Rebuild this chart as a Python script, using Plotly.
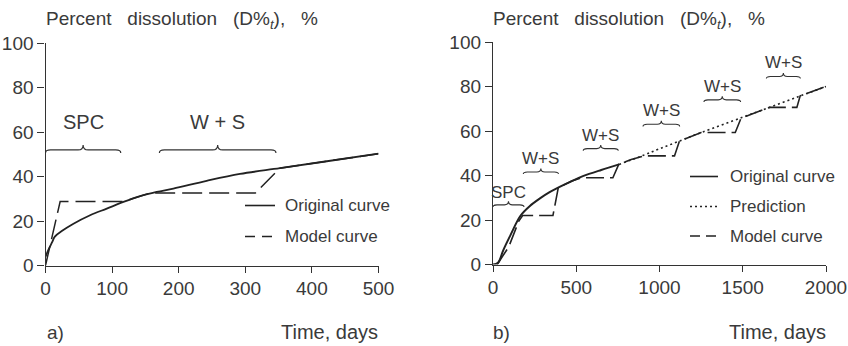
import plotly.graph_objects as go

# ---------------- data ----------------
# panel a)
orig_a_days = [0, 5, 10, 14, 25, 42, 67, 92, 117, 142, 167, 192, 242, 292, 352, 420, 500]
orig_a_pct = [4, 7.5, 10.5, 13, 15.6, 18.8, 22.6, 25.6, 28.6, 31.2, 33.1, 34.6, 38.1, 41.2, 43.8, 46.8, 50.3]
model_a_days = [0, 22, 118, 142, 157, 315, 352, 420, 500]
model_a_pct = [0, 28.8, 28.8, 31.2, 32.6, 32.6, 43.8, 46.8, 50.3]

# panel b)
orig_b_days = [0, 30, 62, 105, 165, 220, 282, 340, 400, 470, 540, 650, 757]
orig_b_pct = [0, 0.8, 6.5, 13.2, 21.9, 26.2, 29.7, 32.5, 34.9, 37.4, 39.7, 42.5, 45]
pred_b_days = [757, 900, 1000, 1120, 1250, 1500, 1660, 1840, 2000]
pred_b_pct = [45, 49, 52, 55.5, 59.3, 66.2, 70.6, 75.6, 80]
model_b_days = [25, 95, 155, 178, 360, 392, 470, 530, 720, 755, 830, 910, 1090, 1120, 1250, 1455, 1490, 1660, 1825, 1845, 2000]
model_b_pct = [0, 8, 19.5, 22, 22, 34.5, 37.4, 39, 39, 45, 47.2, 48.8, 48.8, 55.5, 59.3, 59.3, 65.8, 70.6, 70.6, 75.8, 80]

# phase braces (start, end, level) and labels
brace_a_start = [0, 171]
brace_a_end = [113, 346]
brace_a_level = [52, 52]
brace_a_label = ["SPC", "W + S"]
brace_a_label_y = [64.7, 64.7]

brace_b_start = [0, 182, 542, 901, 1267, 1642]
brace_b_end = [186, 393, 752, 1121, 1487, 1846]
brace_b_level = [26.8, 41.6, 52.1, 63, 74, 84.5]
brace_b_label = ["SPC", "W+S", "W+S", "W+S", "W+S", "W+S"]
brace_b_label_y = [32.3, 47.8, 58.2, 69.3, 80.2, 90.7]

x_a_ticks = [0, 100, 200, 300, 400, 500]
x_b_ticks = [0, 500, 1000, 1500, 2000]
y_ticks = [0, 20, 40, 60, 80, 100]

W, H = 848, 346
LINE = "#222222"
TXT = "#3a3a3a"
FONT = "Liberation Sans, Arial, Helvetica, sans-serif"

fig = go.Figure()

fig.add_trace(go.Scatter(x=orig_a_days, y=orig_a_pct, mode="lines", line=dict(color=LINE, width=1.8, shape="spline"),
                         xaxis="x", yaxis="y", showlegend=False))
fig.add_trace(go.Scatter(x=model_a_days, y=model_a_pct, mode="lines", line=dict(color=LINE, width=1.5, dash="20px,7px"),
                         xaxis="x", yaxis="y", showlegend=False))

fig.add_trace(go.Scatter(x=orig_b_days, y=orig_b_pct, mode="lines", line=dict(color=LINE, width=2, shape="spline"),
                         xaxis="x2", yaxis="y2", showlegend=False))
fig.add_trace(go.Scatter(x=pred_b_days, y=pred_b_pct, mode="lines", line=dict(color=LINE, width=1.6, dash="2px,3px", shape="spline"),
                         xaxis="x2", yaxis="y2", showlegend=False))
fig.add_trace(go.Scatter(x=model_b_days, y=model_b_pct, mode="lines", line=dict(color=LINE, width=1.6, dash="18px,6px"),
                         xaxis="x2", yaxis="y2", showlegend=False))

# domains (pixel based)
xa_dom = [45.5 / W, 378.5 / W]
ya_dom = [1 - 265.5 / H, 1 - 43.3 / H]
xb_dom = [493 / W, 826 / W]
yb_dom = [1 - 264.5 / H, 1 - 42 / H]


def axis(dom, rng, ticks, anchor, tlen):
    return dict(domain=dom, range=rng, tickvals=ticks, ticks="outside", ticklen=tlen, tickwidth=1.2,
                tickcolor="#333", showline=True, linecolor="#333", linewidth=1.3, showgrid=False,
                zeroline=False, anchor=anchor, tickfont=dict(size=19, color=TXT, family=FONT),
                fixedrange=True, automargin=False)


fig.update_layout(
    width=W, height=H, autosize=False,
    margin=dict(l=0, r=0, t=0, b=0, autoexpand=False),
    paper_bgcolor="white", plot_bgcolor="white",
    xaxis=axis(xa_dom, [0, 500], x_a_ticks, "y", 6),
    yaxis=axis(ya_dom, [0, 100], y_ticks, "x", 7),
    xaxis2=axis(xb_dom, [0, 2000], x_b_ticks, "y2", 6),
    yaxis2=axis(yb_dom, [0, 100], y_ticks, "x2", 7),
    font=dict(family=FONT, color=TXT),
)
fig.update_layout(xaxis=dict(ticklabelstandoff=0), xaxis2=dict(ticklabelstandoff=0))

# braces as paths in data coordinates
def brace_path(x0, x1, y, dx, dy):
    xm = (x0 + x1) / 2
    r = 5 * dx
    drop = 3 * dy
    spike = 5 * dy
    return (f"M {x0},{y - drop} Q {x0},{y} {x0 + r},{y} L {xm - r},{y} "
            f"Q {xm},{y} {xm},{y + spike} Q {xm},{y} {xm + r},{y} "
            f"L {x1 - r},{y} Q {x1},{y} {x1},{y - drop}")


shapes = []
dxa = 500 / (xa_dom[1] - xa_dom[0]) / W
dya = 100 / (ya_dom[1] - ya_dom[0]) / H
dxb = 2000 / (xb_dom[1] - xb_dom[0]) / W
dyb = 100 / (yb_dom[1] - yb_dom[0]) / H
for s, e, lv in zip(brace_a_start, brace_a_end, brace_a_level):
    shapes.append(dict(type="path", xref="x", yref="y", path=brace_path(s, e, lv, dxa, dya),
                       line=dict(color="#333", width=1.2)))
for s, e, lv in zip(brace_b_start, brace_b_end, brace_b_level):
    shapes.append(dict(type="path", xref="x2", yref="y2", path=brace_path(s, e, lv, dxb * 0.8, dyb * 0.7),
                       line=dict(color="#333", width=1.1)))

annotations = []
for s, e, lab, ly in zip(brace_a_start, brace_a_end, brace_a_label, brace_a_label_y):
    annotations.append(dict(x=(s + e) / 2, y=ly, xref="x", yref="y", text=lab, showarrow=False,
                            font=dict(size=20, color=TXT, family=FONT)))
for s, e, lab, ly in zip(brace_b_start, brace_b_end, brace_b_label, brace_b_label_y):
    annotations.append(dict(x=(s + e) / 2, y=ly, xref="x2", yref="y2", text=lab, showarrow=False,
                            font=dict(size=17, color=TXT, family=FONT)))

title_txt = "Percent\u00a0\u00a0\u00a0dissolution\u00a0\u00a0\u00a0(D%<sub><i>t</i></sub>),\u00a0\u00a0\u00a0%"
for xp in (46 / W, 493 / W):
    annotations.append(dict(x=xp, y=1 - 20 / H, xref="paper", yref="paper", text=title_txt, showarrow=False,
                            xanchor="left", yanchor="middle", xshift=-2,
                            font=dict(size=19, color=TXT, family=FONT)))

for lab, xl, xr in (("a)", 47, 378), ("b)", 493, 826)):
    annotations.append(dict(x=xl / W, y=1 - 332 / H, xref="paper", yref="paper", text=lab, showarrow=False,
                            xanchor="left", yanchor="middle", xshift=-2, font=dict(size=19, color=TXT, family=FONT)))
    annotations.append(dict(x=xr / W, y=1 - 332 / H, xref="paper", yref="paper", text="Time, days", showarrow=False,
                            xanchor="right", yanchor="middle", xshift=2, font=dict(size=20, color=TXT, family=FONT)))

# manual legends
legend_a = [("Original curve", "solid", 205.5), ("Model curve", "10px,7px", 236.5)]
legend_b = [("Original curve", "solid", 176.5), ("Prediction", "2px,3px", 206.5), ("Model curve", "10px,6px", 236)]
for items, x0, x1, xt in ((legend_a, 245, 275, 285), (legend_b, 690, 718, 730)):
    for lab, dash, yp in items:
        shapes.append(dict(type="line", xref="paper", yref="paper", x0=x0 / W, x1=x1 / W, y0=1 - yp / H, y1=1 - yp / H,
                           line=dict(color=LINE, width=1.6, dash=dash)))
        annotations.append(dict(x=xt / W, y=1 - yp / H, xref="paper", yref="paper", text=lab, showarrow=False,
                                xanchor="left", yanchor="middle", xshift=-2,
                                font=dict(size=17, color=TXT, family=FONT)))

fig.update_layout(shapes=shapes, annotations=annotations)
fig.write_html("out.html")
